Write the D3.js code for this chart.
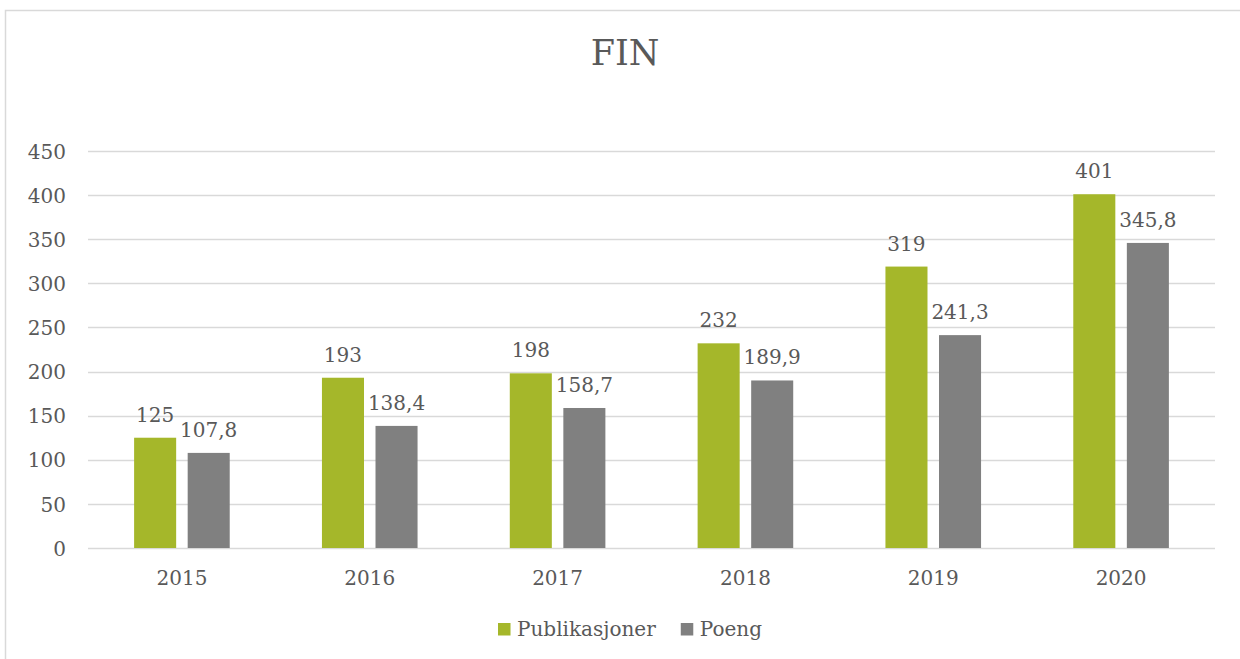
<!DOCTYPE html>
<html>
<head>
<meta charset="utf-8">
<script src="https://cdn.jsdelivr.net/npm/d3@7"></script>
<style>
  html, body { margin: 0; padding: 0; background: #fff; }
  svg { display: block; }
  text { font-family: "DejaVu Serif", Georgia, serif; fill: #595959; }
</style>
</head>
<body>
<svg id="chart" width="1240" height="659"></svg>
<script>
const years = ["2015", "2016", "2017", "2018", "2019", "2020"];
const publikasjoner = [125, 193, 198, 232, 319, 401];
const poeng = [107.8, 138.4, 158.7, 189.9, 241.3, 345.8];
const seriesNames = ["Publikasjoner", "Poeng"];
const yTicks = [0, 50, 100, 150, 200, 250, 300, 350, 400, 450];
const title = "FIN";

const colors = ["#A5B72A", "#808080"];
const W = 1240, H = 659;
const plot = { left: 88, right: 1215, top: 151, bottom: 548 };

const svg = d3.select("#chart");
const locale = d3.formatLocale({ decimal: ",", thousands: " ", grouping: [3], currency: ["", ""] });
const fmt = locale.format("~g");

// outer border
svg.append("rect")
  .attr("x", 5.5).attr("y", 10.5)
  .attr("width", W + 20).attr("height", H + 20)
  .attr("fill", "#fff").attr("stroke", "#d9d9d9").attr("stroke-width", 1.5);

// title
svg.append("text")
  .attr("x", 625).attr("y", 65)
  .attr("text-anchor", "middle")
  .style("font-size", "35px")
  .text(title);

const y = d3.scaleLinear().domain([0, 450]).range([plot.bottom, plot.top]);
const x0 = d3.scaleBand().domain(years).range([plot.left, plot.right]).paddingInner(0).paddingOuter(0);
const pairW = x0.bandwidth() * 0.509;
const x1 = d3.scaleBand().domain(seriesNames).range([0, pairW]).paddingInner(0.215).paddingOuter(0);

// gridlines
svg.append("g").selectAll("line").data(yTicks).join("line")
  .attr("x1", plot.left).attr("x2", plot.right)
  .attr("y1", d => Math.round(y(d)) + 0.5).attr("y2", d => Math.round(y(d)) + 0.5)
  .attr("stroke", "#d9d9d9").attr("stroke-width", 1.3);

// y axis labels
const yAxis = d3.axisLeft(y).tickValues(yTicks).tickSize(0).tickPadding(0).tickFormat(d => fmt(d));
const yg = svg.append("g").attr("transform", `translate(66,0)`).call(yAxis);
yg.select(".domain").remove();
yg.selectAll("text").style("font-size", "20px").style("font-family", "DejaVu Serif, serif").attr("fill", "#595959").attr("dy", "0.36em");

// x axis labels
const xAxis = d3.axisBottom(x0).tickSize(0).tickPadding(0);
const xg = svg.append("g").attr("transform", `translate(0,585)`).call(xAxis);
xg.select(".domain").remove();
xg.selectAll("text").style("font-size", "20px").style("font-family", "DejaVu Serif, serif").attr("fill", "#595959").attr("dy", 0);

const data = years.map((yr, i) => ({ year: yr, values: [publikasjoner[i], poeng[i]] }));

const groups = svg.append("g").selectAll("g").data(data).join("g")
  .attr("transform", d => `translate(${x0(d.year) + (x0.bandwidth() - pairW) / 2},0)`);

groups.selectAll("rect").data(d => d.values.map((v, j) => ({ v, j }))).join("rect")
  .attr("x", d => x1(seriesNames[d.j]))
  .attr("width", x1.bandwidth())
  .attr("y", d => y(d.v))
  .attr("height", d => y(0) - y(d.v))
  .attr("fill", d => colors[d.j]);

groups.selectAll("text.lbl").data(d => d.values.map((v, j) => ({ v, j }))).join("text")
  .attr("class", "lbl")
  .attr("x", d => x1(seriesNames[d.j]) + x1.bandwidth() / 2)
  .attr("y", d => y(d.v) - 16)
  .attr("text-anchor", "middle")
  .style("font-size", "20px")
  .text(d => fmt(d.v));

// legend
const legend = svg.append("g");
let cx = 0;
seriesNames.forEach((name, i) => {
  const g = legend.append("g").attr("transform", `translate(${cx},0)`);
  g.append("rect").attr("x", 0).attr("y", -13).attr("width", 12.5).attr("height", 12.5).attr("fill", colors[i]);
  const t = g.append("text").attr("x", 19).attr("y", 0).style("font-size", "20px").text(name);
  const w = t.node().getComputedTextLength();
  cx += 19 + w + 25;
});
const totalW = cx - 25;
legend.attr("transform", `translate(${630 - totalW / 2},636)`);
</script>
</body>
</html>
